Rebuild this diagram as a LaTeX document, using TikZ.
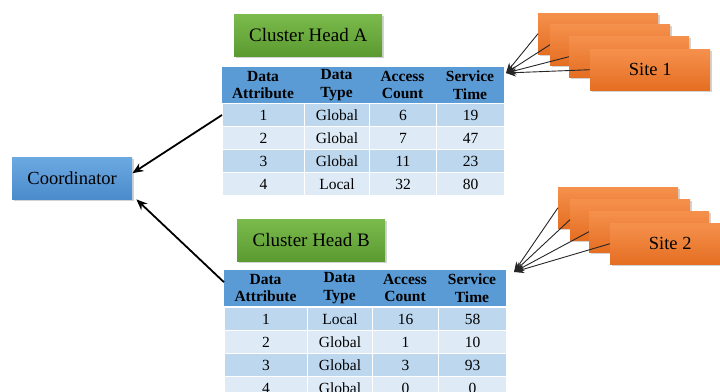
\documentclass[tikz,border=0pt]{standalone}
\usepackage{fontspec}
\setmainfont{Liberation Serif}
\usetikzlibrary{arrows.meta, shadows}

\definecolor{hdblue}{HTML}{5B9BD5}
\definecolor{rowdark}{HTML}{BDD7EE}
\definecolor{rowlight}{HTML}{DEEBF7}
\definecolor{greentop}{HTML}{7BBB4D}
\definecolor{greenbot}{HTML}{5A9A30}
\definecolor{bluetop}{HTML}{6CA9E1}
\definecolor{bluebot}{HTML}{4A8BCC}
\definecolor{orangetop}{HTML}{F5914D}
\definecolor{orangebot}{HTML}{E56E22}

\begin{document}
\begin{tikzpicture}[x=1pt, y=-1pt,
    every node/.style={font=\fontsize{15.5}{17}\selectfont, inner sep=0pt},
    boxshadow/.style={drop shadow={shadow xshift=1.5pt, shadow yshift=-2pt, opacity=0.35}},
    headbox/.style={boxshadow, top color=greentop, bottom color=greenbot,
      minimum width=148pt, minimum height=42pt, anchor=north west, font=\fontsize{19}{21}\selectfont},
    coordbox/.style={boxshadow, top color=bluetop, bottom color=bluebot,
      minimum width=120pt, minimum height=42pt, anchor=north west, font=\fontsize{18.5}{20}\selectfont},
    sitebox/.style={boxshadow, top color=orangetop, bottom color=orangebot,
      minimum width=120pt, minimum height=41pt, anchor=north west, font=\fontsize{18.5}{20}\selectfont},
    hdr/.style={fill=hdblue, minimum width=282pt, minimum height=36pt, anchor=north west},
    hdtext/.style={align=center, font=\fontsize{15.5}{17.5}\selectfont\bfseries},
    cell/.style={draw=white, line width=1pt, minimum height=23pt, anchor=north west},
    toCoord/.style={-{Stealth[length=11pt, width=9pt]}, line width=1.8pt},
    toHead/.style={-{Stealth[length=10pt, width=8pt]}, line width=0.9pt, draw=black!85}]
  \useasboundingbox (0,0) rectangle (720,391);

  % coordinator and cluster heads
  \node[coordbox] (coord) at (12,157) {Coordinator};
  \node[headbox] (headA) at (234,14) {Cluster Head A};
  \node[headbox] (headB) at (237,219) {Cluster Head B};

  % table A
  \node[hdr] (hdrA) at (222,67) {};
  \node[hdtext] (hA1) at (263,85) {Data\\Attribute};
  \node[hdtext] (hA2) at (336.5,85) {Data\\Type};
  \node[hdtext] (hA3) at (402.5,85) {Access\\Count};
  \node[hdtext] (hA4) at (470,85) {Service\\Time};
  \foreach \r/\col/\a/\b/\c/\d in {0/rowdark/1/Global/6/19, 1/rowlight/2/Global/7/47,
      2/rowdark/3/Global/11/23, 3/rowlight/4/Local/32/80} {
    \node[cell, fill=\col, minimum width=82pt] (a\r-1) at (222,103+23*\r) {\a};
    \node[cell, fill=\col, minimum width=65pt] (a\r-2) at (304,103+23*\r) {\b};
    \node[cell, fill=\col, minimum width=67pt] (a\r-3) at (369,103+23*\r) {\c};
    \node[cell, fill=\col, minimum width=68pt] (a\r-4) at (436,103+23*\r) {\d};
  }

  % table B
  \node[hdr] (hdrB) at (224,270) {};
  \node[hdtext] (hB1) at (265.5,288) {Data\\Attribute};
  \node[hdtext] (hB2) at (339.5,288) {Data\\Type};
  \node[hdtext] (hB3) at (405,288) {Access\\Count};
  \node[hdtext] (hB4) at (472,288) {Service\\Time};
  \foreach \r/\col/\a/\b/\c/\d in {0/rowdark/1/Local/16/58, 1/rowlight/2/Global/1/10,
      2/rowdark/3/Global/3/93, 3/rowlight/4/Global/0/0} {
    \node[cell, fill=\col, minimum width=83pt] (b\r-1) at (224,307+23*\r) {\a};
    \node[cell, fill=\col, minimum width=65pt] (b\r-2) at (307,307+23*\r) {\b};
    \node[cell, fill=\col, minimum width=66pt] (b\r-3) at (372,307+23*\r) {\c};
    \node[cell, fill=\col, minimum width=68pt] (b\r-4) at (438,307+23*\r) {\d};
  }

  % sites
  \node[sitebox] (s1a) at (538,13) {};
  \node[sitebox] (s1b) at (550,24) {};
  \node[sitebox] (s1c) at (569,36) {};
  \node[sitebox] (s1d) at (590,49) {Site 1};
  \node[sitebox] (s2a) at (558,187) {};
  \node[sitebox] (s2b) at (570,199) {};
  \node[sitebox] (s2c) at (589,211) {};
  \node[sitebox] (s2d) at (610,223) {Site 2};

  \coordinate (tipA) at (506,73);
  \coordinate (tipB) at (514,272);

  % arrows
  \draw[toCoord] (a0-1.west) -- ([yshift=5pt]coord.east);
  \draw[toCoord] ([yshift=6pt]hdrB.west) -- ([xshift=4pt]coord.south east);
  \draw[toHead] (s1a.west) -- (tipA); \draw[toHead] (s1b.west) -- (tipA);
  \draw[toHead] (s1c.west) -- (tipA); \draw[toHead] (s1d.west) -- (tipA);
  \draw[toHead] (s2a.west) -- (tipB); \draw[toHead] (s2b.west) -- (tipB);
  \draw[toHead] (s2c.west) -- (tipB); \draw[toHead] (s2d.west) -- (tipB);
\end{tikzpicture}
\end{document}
